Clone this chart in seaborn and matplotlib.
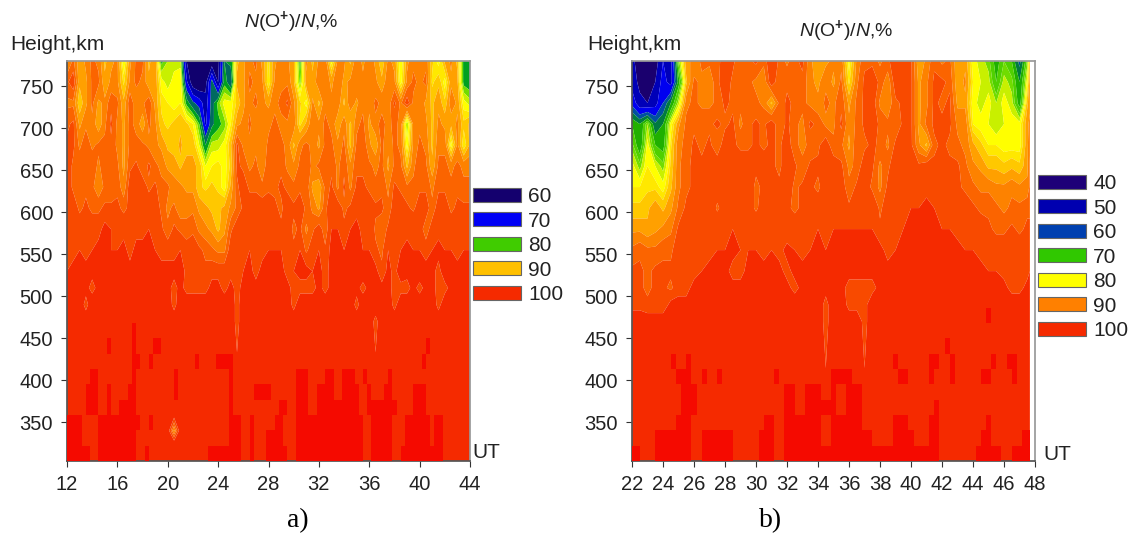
import numpy as np
import matplotlib
matplotlib.use("Agg")
import matplotlib.pyplot as plt
from matplotlib.colors import ListedColormap
from matplotlib.patches import Patch
import seaborn as sns

# ---------- panel a data (half-hour columns 12 .. 44) ----------
UT_A = np.arange(12, 44.5, 0.5)
KM_A = [304,325,340,360,470,490,510,530,555,580,605,630,655,680,705,730,755,780]
A_780 = [90,93,89,91,93,92,88,90, 91,83,90,93,93,88,90,78, 81,82,82,62,57,57,57,58, 60,76,77,88,90,92,93,90,
         86,90,92,91,89,78,91,88, 91,92,84,91,91,88,92,90, 92,90,87,91,90,83,90,92, 91,92,87,84,89,91,88,78, 78]
A_755 = [94,96,89,90,93,93,89,91, 91,86,91,93,92,89,90,84, 82,84,85,68,58,56,60,74, 62,78,73,89,90,93,92,91,
         85,91,92,92,89,80,90,89, 92,92,90,92,90,91,92,91, 92,91,89,92,91,84,91,93, 92,93,86,88,84,90,89,78, 77]
A_730 = [92,92,87,90,93,90,91,94, 93,89,94,91,92,94,90,86, 85,84,85,78,73,70,64,74, 80,84,84,87,90,92,93,91,
         90,92,93,95,91,87,84,91, 88,92,91,92,88,92,90,92, 91,93,92,91,95,92,96,92, 92,90,88,90,87,92,90,84, 82]
A_705 = [94,95,90,92,92,89,92,95, 92,90,93,92,89,93,91,87, 86,87,88,87,85,79,66,75, 78,80,85,90,91,93,91,92,
         92,93,92,92,92,86,89,92, 91,93,92,89,92,88,92,93, 90,92,93,92,93,92,81,91, 92,91,88,91,90,89,91,87, 89]
A_680 = [95,95,92,94,92,93,93,94, 92,90,93,93,93,92,91,90, 88,87,89,87,88,83,76,82, 82,84,88,95,92,92,92,91,
         93,93,93,92,88,92,93,92, 90,93,93,91,93,88,93,94, 91,89,93,91,93,92,84,91, 93,92,88,92,92,84,91,85, 89]
A_655 = [96,94,94,93,94,92,94,93, 93,90,94,95,93,95,93,92, 90,90,88,90,89,88,83,85, 86,84,87,95,94,92,93,91,
         94,94,94,92,91,93,94,92, 93,94,94,92,94,91,94,94, 93,92,93,90,93,93,88,92, 94,93,89,93,93,92,93,92, 92]
A_630 = [96,94,94,94,93,91,93,93, 94,91,96,96,96,94,95,93, 93,91,91,90,90,87,86,87, 86,84,89,94,96,94,94,93,
         94,94,95,94,93,94,94,90, 89,93,95,92,95,92,95,95, 94,93,94,92,95,94,93,93, 94,94,92,94,94,93,94,93, 93]
A_605 = [96,96,94,95,94,94,95,95, 95,94,95,97,96,96,96,94, 92,93,91,92,92,90,89,88, 88,89,91,93,95,96,96,96,
         96,95,94,96,95,96,94,92, 90,94,96,96,94,95,96,96, 96,95,95,93,96,96,95,94, 96,96,93,96,96,94,95,95, 95]
A_580 = [97,97,96,95,96,96,98,97, 96,96,95,96,96,97,97,95, 93,95,94,93,94,92,91,90, 88,90,94,96,96,96,96,96,
         96,97,95,96,94,95,92,94, 96,93,97,97,95,97,98,96, 97,94,93,95,96,96,96,97, 96,93,96,96,97,96,95,96, 96]
A_555 = [96,96,97,96,97,98,98,97, 97,98,96,98,98,98,97,96, 96,96,97,96,96,95,94,93, 92,92,96,97,96,97,96,96,
         97,97,97,96,95,97,94,96, 97,95,98,98,97,98,98,97, 97,95,94,97,97,97,98,97, 97,96,97,98,97,97,96,97, 97]
A_530 = [97,98,99,98,98,98,99,98, 98,98,98,98,99,99,98,98, 98,98,99,96,96,96,95,96, 96,96,96,97,97,98,96,98,
         98,98,98,96,97,98,98,97, 98,96,98,99,98,98,99,99, 99,98,95,98,96,99,98,99, 99,98,98,96,99,99,98,98, 98]
A_510 = [98,98,98,98,96,98,98,98, 98,98,98,98,98,98,98,98, 98,96,98,96,96,96,96,98, 98,96,98,96,98,98,98,98,
         98,98,98,98,96,96,96,96, 98,96,98,98,98,98,98,96, 98,98,98,98,96,96,96,98, 96,98,98,96,96,98,98,98, 98]
A_490 = [99,99,99,96,99,99,99,99, 99,99,99,99,99,99,99,99, 99,96,99,99,99,99,99,99, 99,99,99,96,99,99,99,99,
         99,99,99,99,96,99,99,99, 99,99,99,99,99,99,96,99, 99,99,99,99,96,99,99,99, 99,99,99,96,99,99,99,99, 99]
A_470 = [99,99,99,99,99,99,99,99, 99,99,99,99,99,99,99,99, 99,99,99,99,99,99,99,99, 99,99,99,96,99,99,99,99,
         99,99,99,99,99,99,99,99, 99,99,99,99,99,99,99,99, 99,96,99,99,99,99,99,99, 99,99,99,99,99,99,99,99, 99]
A_360 = [99]*65
A_340 = [99,99,99,99,99,99,99,99, 99,99,99,99,99,99,99,99, 99,90,99,99,99,99,99,99, 99,99,99,99,99,99,99,99,
         99,99,99,99,99,99,99,99, 99,99,99,99,99,99,99,99, 99,99,99,99,99,99,99,99, 99,99,99,99,99,99,99,99, 99]
A_325 = [99]*65
A_304 = [99]*65
ROWS_A = [A_304,A_325,A_340,A_360,A_470,A_490,A_510,A_530,A_555,A_580,A_605,A_630,A_655,A_680,A_705,A_730,A_755,A_780]
# darker-red cells: 20-minute column indices, per 18 km row from the bottom
DARK_A = [
 [(0,5),(8,16),(19,19),(34,41),(44,44),(48,52),(55,70),(73,77),(80,89)],
 [(0,3),(8,16),(39,41),(44,44),(48,51),(55,70),(73,77),(81,86),(88,89)],
 [(0,3),(8,17),(20,20),(39,41),(44,44),(50,51),(55,70),(73,77),(81,86),(88,89)],
 [(5,7),(10,10),(13,16),(39,39),(51,52),(55,57),(60,69),(72,78),(83,85)],
 [(5,7),(10,10),(15,16),(26,26),(39,39),(45,48),(55,57),(60,63),(66,69),(72,72),(76,77),(83,85)],
 [(6,7),(16,16),(26,26),(39,39),(55,57),(62,63),(66,68),(71,71),(77,77)],
 [(16,17),(20,20),(31,31),(36,39),(85,85)],
 [(10,10),(16,16),(21,22),(86,86)],
 [(16,16)],
 [],
]

# ---------- panel b data (half-hour columns 22 .. 47.5, then 47.67) ----------
UT_B = list(np.arange(22, 48, 0.5)) + [47.67]
KM_B = [304,470,490,510,530,555,580,605,630,655,680,705,730,755,780]
B_780 = [50,44,42,44,55,52,80,90, 91,93,93,93,97,95,93,94, 95,93,97,94,92,94,95,91,
         89,90,91,92,84,91,94,94, 92,94,96,97,95,89,91,94, 92,93,89,90,84,82,80,74, 79,76,65,80, 88]
B_755 = [52,46,44,48,58,52,74,88, 93,92,91,94,96,94,94,93, 92,91,96,93,94,93,94,91,
         90,92,90,93,86,92,95,96, 94,91,96,97,95,90,92,95, 95,94,89,91,85,83,82,76, 82,80,72,84, 90]
B_730 = [60,50,48,52,62,72,82,92, 93,92,92,93,95,94,93,93, 93,92,88,93,95,94,93,92,
         91,93,92,94,90,93,95,96, 92,91,94,95,95,90,92,95, 94,95,90,90,84,82,84,81, 84,82,74,88, 90]
B_705 = [76,72,81,68,72,84,90,93, 94,94,94,95,94,95,92,94, 95,94,96,93,95,93,92,95,
         94,92,92,95,91,93,95,96, 94,93,93,95,95,90,93,95, 95,95,92,92,85,84,83,81, 83,84,84,90, 91]
B_680 = [80,73,84,76,74,86,92,93, 95,94,95,93,96,95,94,94, 95,94,95,94,96,93,92,93,
         94,96,93,93,90,94,94,95, 94,92,95,95,95,91,88,94, 95,94,93,92,89,87,85,85, 84,84,84,90, 92]
B_655 = [84,80,85,83,80,87,92,94, 95,95,95,96,95,95,96,96, 95,96,95,94,96,95,93,95,
         95,96,96,95,92,93,96,95, 92,94,96,96,96,95,96,95, 96,95,95,93,91,90,88,88, 87,88,87,90, 93]
B_630 = [85,85,86,86,84,88,92,94, 95,96,95,96,96,97,96,96, 94,95,96,95,96,94,95,95,
         94,96,96,96,93,95,96,94, 92,95,96,97,97,97,96,95, 97,95,95,94,93,92,92,91, 91,92,91,91, 93]
B_605 = [87,87,88,90,88,90,93,95, 95,96,97,94,96,97,97,96, 94,96,96,96,95,94,95,96,
         96,96,96,96,95,96,97,97, 94,96,96,97,97,97,98,97, 97,96,97,96,95,94,94,93, 92,93,93,94, 94]
B_580 = [90,90,89,90,91,92,95,95, 96,96,97,97,97,97,97,97, 97,97,97,97,95,96,97,96,
         97,97,97,97,97,97,97,97, 95,96,96,97,98,98,98,98, 97,97,96,96,96,96,95,94, 94,95,94,95, 95]
B_555 = [93,94,93,93,94,94,96,96, 97,97,96,97,97,98,97,97, 97,96,97,96,98,97,96,97,
         98,97,98,98,98,98,98,98, 98,96,97,98,98,98,98,98, 98,98,98,97,97,96,95,96, 96,96,96,96, 96]
B_530 = [95,95,94,95,95,95,96,96, 96,97,98,98,98,96,96,98, 98,98,98,98,96,98,98,98,
         98,98,98,98,98,98,98,98, 98,98,98,98,98,98,98,98, 98,98,98,98,98,98,97,97, 96,96,97,96, 97]
B_510 = [96,95,94,95,95,94,96,96, 98,98,98,98,98,98,98,98, 98,98,98,98,98,96,98,98,
         98,98,98,98,96,96,96,96, 98,98,98,98,98,98,98,98, 98,98,98,98,98,98,98,98, 98,96,96,98, 98]
B_490 = [96,96,95,95,95,98,98,98, 99,99,99,99,99,99,99,99, 99,99,99,99,99,99,99,99,
         99,96,99,99,96,96,96,99, 99,99,99,99,99,99,99,99, 99,99,99,99,99,99,99,99, 99,99,99,99, 99]
B_470 = [99,99,99,99,99,99,99,99, 99,99,99,99,99,99,99,99, 99,99,99,99,99,99,99,99,
         99,96,99,99,99,99,96,99, 99,99,99,99,99,99,99,99, 99,99,99,99,99,99,99,99, 99,99,99,99, 99]
B_304 = [99]*53
ROWS_B = [B_304,B_470,B_490,B_510,B_530,B_555,B_580,B_605,B_630,B_655,B_680,B_705,B_730,B_755,B_780]
DARK_B = [
 [(0,1),(5,11),(14,19),(25,27),(30,59),(67,71),(74,77)],
 [(5,11),(14,19),(25,27),(30,36),(39,46),(51,54),(58,59),(68,69),(76,77)],
 [(9,11),(26,27),(30,36),(39,44),(51,53),(58,59),(69,69)],
 [(10,12),(30,31),(34,39),(42,44),(59,59)],
 [(10,12),(30,31),(34,36),(39,39),(42,44)],
 [(9,11),(14,14),(17,17),(28,28),(39,42),(52,53),(58,58),(62,62),(68,69),(74,74)],
 [(8,8),(11,11),(51,51),(58,59),(62,62),(70,70),(73,74)],
 [(61,61)],
 [],
 [(69,69)],
]

# ---------- contour bands and legends ----------
WARM = ["#FFFF00","#FFE800","#FFC800","#FFA000","#FD8200","#FB6400","#F84A00","#F52A00"]
LEVELS_A = [40,62,67,72,76,79,81,83,85,86.5,88.5,90.5,92.5,94.5,97,101]
COLORS_A = ["#10006E","#0000A8","#0000F0","#006A60","#00A020","#70DC00","#C8F000"] + WARM
LEVELS_B = [30,48,55,62,67,72,76,79,81,83,85,86.5,88.5,90.5,92.5,94.5,97,101]
COLORS_B = ["#1A006E","#0000B8","#0000F0","#0050A0","#007A40","#20B000","#50D000","#70DC00","#C8F000"] + WARM
LEG_A = ["60","70","80","90","100"]
LEG_A_C = ["#14006E","#0000F5","#40CC00","#FFC000","#F52A00"]
LEG_B = ["40","50","60","70","80","90","100"]
LEG_B_C = ["#1E0078","#0000B0","#0040B0","#30C800","#FFFF00","#FF8000","#F52A00"]
DARK_RED = "#F50A00"
XT_A = list(range(12,45,4))
XT_B = list(range(22,49,2))
YT = [350,400,450,500,550,600,650,700,750]

sns.set_theme(style="ticks")
plt.rcParams["font.family"] = ["Liberation Sans", "DejaVu Sans"]
plt.rcParams["mathtext.fontset"] = "custom"
plt.rcParams["mathtext.rm"] = "Liberation Sans"
plt.rcParams["mathtext.it"] = "Liberation Sans:italic"
plt.rcParams["mathtext.bf"] = "Liberation Sans:bold"

W, H = 1134, 535
fig = plt.figure(figsize=(W/100, H/100), dpi=100, facecolor="white")
FS = 15
TICK_FS = 14.5
TXT = "#222222"

def grid(runs, n):
    g = np.zeros((len(runs), n))
    for r, row in enumerate(runs):
        for a, b in row:
            g[r, a:b+1] = 1
    return g[::-1]   # heatmap draws the first row on top

def panel(x0, x1, ut, km, rows, levels, colors, dark, ncols, xmax, xticks, leg, legc, legtop):
    ax = fig.add_axes([x0/W, 1-461/H, (x1-x0)/W, 400/H])
    ax.contourf(ut, km, np.array(rows, float), levels=levels, colors=colors, antialiased=True)
    ax.set_xlim(xticks[0], xticks[-1])
    ax.set_ylim(304, 780)
    ax.set_xticks(xticks)
    ax.set_yticks(YT)
    ax.tick_params(labelsize=TICK_FS, length=4, width=0.8, colors="#333333", labelcolor=TXT, pad=6)
    for s in ("top", "right"):
        ax.spines[s].set_visible(True)
        ax.spines[s].set_color("#999999")
    for s in ("left", "bottom"):
        ax.spines[s].set_color("#555555")
    d = grid(dark, ncols)
    frac_w = (xmax - xticks[0]) / (xticks[-1] - xticks[0])
    ov = ax.inset_axes([0, 0, frac_w, (486.5-304)/(780-304)])
    sns.heatmap(d, mask=d == 0, cmap=ListedColormap([DARK_RED]), cbar=False,
                xticklabels=False, yticklabels=False, ax=ov)
    ov.set_xlim(0.5, ncols-0.5)
    ov.axis("off")
    hs = [Patch(facecolor=c, edgecolor="#666666", lw=0.8) for c in legc]
    ax.legend(hs, leg, loc="upper left", frameon=False, fontsize=FS,
              bbox_to_anchor=((x1-x0+3)/(x1-x0), (461-legtop)/400), borderaxespad=0, borderpad=0,
              handlelength=2.3, handleheight=0.68, handletextpad=0.35, labelspacing=0.265,
              labelcolor=TXT)
    return ax

panel(67, 470, UT_A, KM_A, ROWS_A, LEVELS_A, COLORS_A, DARK_A, 97, 44, XT_A, LEG_A, LEG_A_C, 187)
panel(632, 1035, UT_B, KM_B, ROWS_B, LEVELS_B, COLORS_B, DARK_B, 78, 47.67, XT_B, LEG_B, LEG_B_C, 174)

def T(x, y, s, **kw):
    kw.setdefault("fontsize", FS)
    kw.setdefault("color", TXT)
    fig.text(x/W, 1-y/H, s, va="center", **kw)

TITLE = r"$\mathit{N}$(O$^{\mathbf{+}}$)/$\mathit{N}$,%"
T(291, 22, TITLE, ha="center", fontsize=14)
T(846, 31, TITLE, ha="center", fontsize=14)
T(10, 45, "Height,km", ha="left")
T(587, 45, "Height,km", ha="left")
T(472, 453, "UT", ha="left")
T(1043, 454, "UT", ha="left")
T(298, 521, "a)", ha="center", family="Liberation Serif", fontsize=20, color="black")
T(771, 521, "b)", ha="center", family="Liberation Serif", fontsize=20, color="black")

fig.savefig("out.png", dpi=100)
